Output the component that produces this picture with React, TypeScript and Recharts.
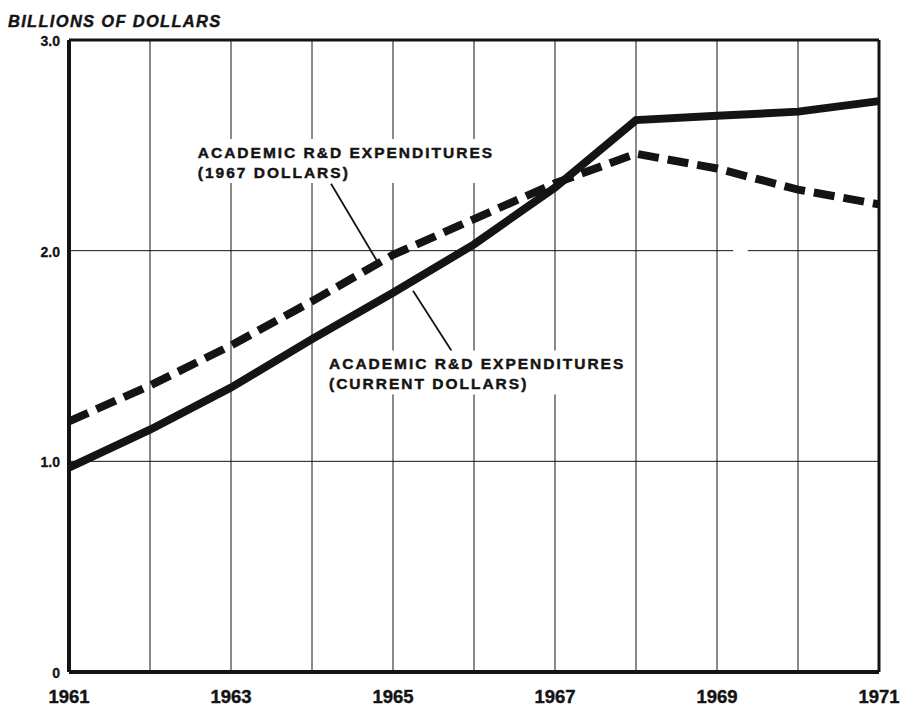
import React from 'react';
import {
  LineChart,
  Line,
  XAxis,
  YAxis,
  CartesianGrid,
  ReferenceLine,
  ReferenceDot,
} from 'recharts';

// academic R&D spending, billions of dollars
const years = [1961, 1962, 1963, 1964, 1965, 1966, 1967, 1968, 1969, 1970, 1971];
const currentDollars = [0.97, 1.15, 1.35, 1.58, 1.8, 2.03, 2.3, 2.62, 2.64, 2.66, 2.71];
const constantDollars = [1.19, 1.36, 1.55, 1.76, 1.98, 2.15, 2.32, 2.46, 2.39, 2.29, 2.22];

const yTicks = [0, 1, 2, 3];
const labelledYears = [1961, 1963, 1965, 1967, 1969, 1971];

const data = years.map((year, i) => ({
  year,
  current: currentDollars[i],
  constant: constantDollars[i],
}));

const FONT = '"Liberation Sans", Arial, Helvetica, sans-serif';
const INK = '#141414';

const XTick = (props: any) => {
  const { x, y, payload } = props;
  if (!labelledYears.includes(payload.value)) return <g />;
  return (
    <text
      x={x}
      y={y + 31}
      textAnchor="middle"
      fontFamily={FONT}
      fontWeight={700}
      fontSize={18.5}
      fill={INK}
      stroke={INK}
      strokeWidth={0.4}
    >
      {payload.value}
    </text>
  );
};

const YTick = (props: any) => {
  const { x, y, payload } = props;
  return (
    <text
      x={x}
      y={y + 6}
      textAnchor="end"
      fontFamily={FONT}
      fontWeight={700}
      fontSize={14}
      fill={INK}
      stroke={INK}
      strokeWidth={0.3}
    >
      {payload.value === 0 ? '0' : payload.value.toFixed(1)}
    </text>
  );
};

// two-line annotation on a white patch that breaks the grid behind it
const noteShape = (line1: string, line2: string, width: number) => (props: any) => {
  const { cx, cy } = props;
  const textProps = {
    fontFamily: FONT,
    fontWeight: 700,
    fontSize: 15.5,
    letterSpacing: 2,
    fill: INK,
    stroke: INK,
    strokeWidth: 0.45,
  };
  return (
    <g>
      <rect x={cx - 5} y={cy - 19} width={width} height={44} fill="#fff" />
      <text x={cx} y={cy} {...textProps}>{line1}</text>
      <text x={cx} y={cy + 20} {...textProps}>{line2}</text>
    </g>
  );
};

export default function App() {
  return (
    <div
      style={{
        position: 'absolute',
        left: 0,
        top: 0,
        width: 901,
        height: 707,
        background: '#fff',
      }}
    >
      <div
        style={{
          position: 'absolute',
          left: 8,
          top: 13,
          fontFamily: FONT,
          fontWeight: 700,
          fontStyle: 'italic',
          fontSize: 16.5,
          lineHeight: '16.5px',
          letterSpacing: 1.3,
          color: INK,
          WebkitTextStroke: '0.4px #141414',
          whiteSpace: 'nowrap',
        }}
      >
        BILLIONS OF DOLLARS
      </div>
      <LineChart
        width={901}
        height={707}
        data={data}
        margin={{ top: 40, right: 22, left: 0, bottom: 0 }}
      >
        <CartesianGrid
          stroke={INK}
          vertical={{ strokeWidth: 1.3 }}
          horizontal={{ strokeWidth: 2 }}
        />
        <XAxis
          dataKey="year"
          type="number"
          domain={[1961, 1971]}
          ticks={years}
          height={35}
          tickSize={0}
          tickMargin={0}
          axisLine={{ stroke: INK, strokeWidth: 4 }}
          tick={<XTick />}
        />
        <YAxis
          type="number"
          domain={[0, 3]}
          ticks={yTicks}
          width={69}
          tickSize={0}
          tickMargin={9}
          axisLine={{ stroke: INK, strokeWidth: 4 }}
          tick={<YTick />}
        />
        {/* top and right edges of the frame */}
        <ReferenceLine y={3} stroke={INK} strokeWidth={3} />
        <ReferenceLine x={1971} stroke={INK} strokeWidth={3} />
        {/* small break in the 2.0 rule */}
        <ReferenceLine
          segment={[{ x: 1969.2, y: 2 }, { x: 1969.38, y: 2 }]}
          stroke="#fff"
          strokeWidth={4}
        />
        <ReferenceDot
          x={1962.59}
          y={2.44}
          r={0}
          shape={noteShape('ACADEMIC R&D EXPENDITURES', '(1967 DOLLARS)', 310)}
        />
        <ReferenceDot
          x={1964.21}
          y={1.436}
          r={0}
          shape={noteShape('ACADEMIC R&D EXPENDITURES', '(CURRENT DOLLARS)', 302)}
        />
        {/* pointers from the notes to the lines */}
        <ReferenceLine
          segment={[{ x: 1964.235, y: 2.318 }, { x: 1964.815, y: 1.943 }]}
          stroke={INK}
          strokeWidth={1.8}
        />
        <ReferenceLine
          segment={[{ x: 1965.728, y: 1.521 }, { x: 1965.247, y: 1.81 }]}
          stroke={INK}
          strokeWidth={1.8}
        />
        <Line
          type="linear"
          dataKey="constant"
          stroke={INK}
          strokeWidth={8}
          strokeDasharray="21 9"
          strokeLinecap="butt"
          dot={false}
          isAnimationActive={false}
        />
        <Line
          type="linear"
          dataKey="current"
          stroke={INK}
          strokeWidth={8}
          dot={false}
          isAnimationActive={false}
        />
      </LineChart>
    </div>
  );
}
